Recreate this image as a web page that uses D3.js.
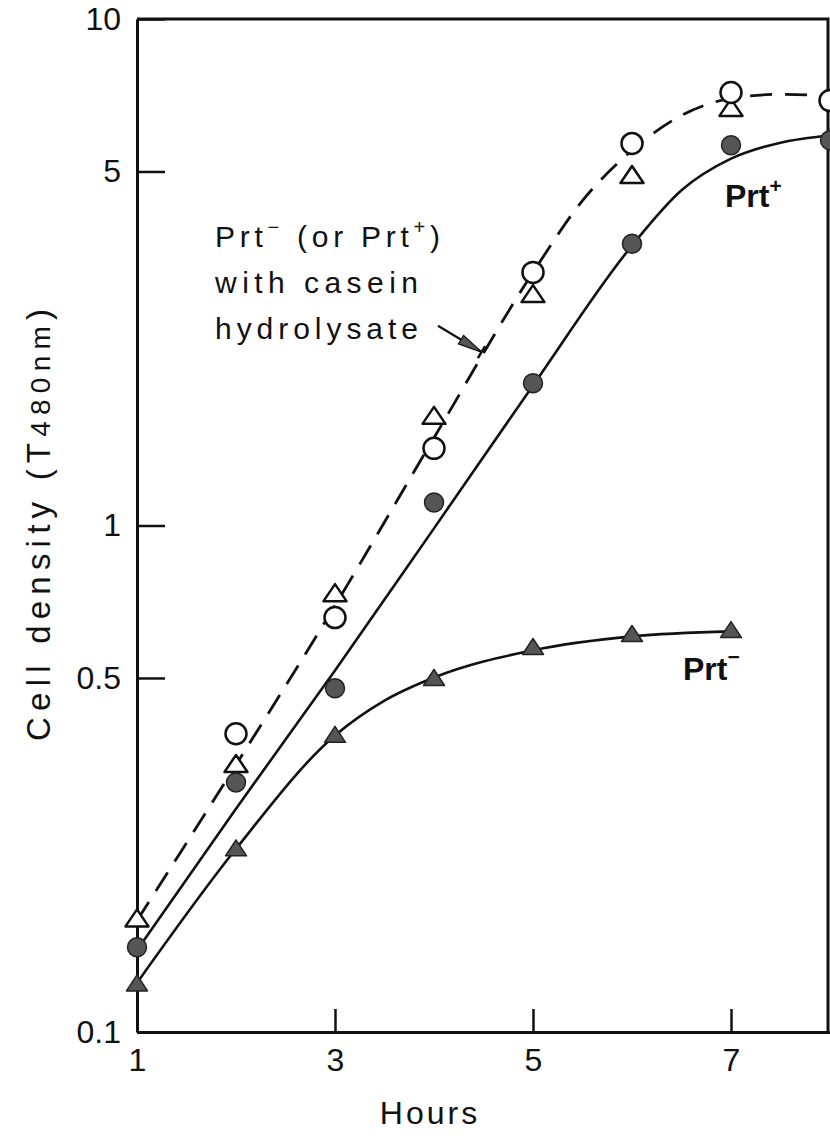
<!DOCTYPE html>
<html>
<head>
<meta charset="utf-8">
<script src="https://cdn.jsdelivr.net/npm/d3@7"></script>
<style>
    body { margin: 0; background: #fff; }
    svg { display: block; font-family: "Liberation Sans", Arial, sans-serif; }
</style>
</head>
<body>
<div class="growth-chart"></div>
<script>
const FRAME_WIDTH = 830;
const FRAME_HEIGHT = 1136;
const MARGINS = {left: 137, right: 2, top: 19, bottom: 104};

// measured points (cell density vs hours)
const CASEIN_CIRCLE_HOURS = [2, 3, 4, 5, 6, 7, 8];
const CASEIN_CIRCLE = [0.388, 0.658, 1.42, 3.16, 5.68, 7.16, 6.90];
const CASEIN_TRIANGLE_HOURS = [1, 2, 3, 4, 5, 6, 7];
const CASEIN_TRIANGLE = [0.168, 0.339, 0.737, 1.65, 2.87, 4.93, 6.69];
const PRT_PLUS_HOURS = [1, 2, 3, 4, 5, 6, 7, 8];
const PRT_PLUS = [0.147, 0.311, 0.477, 1.11, 1.91, 3.60, 5.63, 5.76];
const PRT_MINUS_HOURS = [1, 2, 3, 4, 5, 6, 7];
const PRT_MINUS = [0.125, 0.231, 0.387, 0.501, 0.577, 0.612, 0.623];

// hand drawn curves through the points
const CASEIN_FIT_HOURS = [1, 2, 3, 4, 5, 5.5, 6, 6.5, 7, 7.5, 8];
const CASEIN_FIT = [0.166, 0.337, 0.695, 1.49, 3.16, 4.38, 5.50, 6.45, 6.97, 7.10, 7.06];
const PRT_PLUS_FIT_HOURS = [1, 2, 3, 4, 5, 6, 6.5, 7, 7.5, 8];
const PRT_PLUS_FIT = [0.145, 0.276, 0.517, 0.987, 1.89, 3.57, 4.59, 5.30, 5.70, 5.89];
const PRT_MINUS_FIT_HOURS = [1, 2, 3, 3.5, 4, 5, 6, 7];
const PRT_MINUS_FIT = [0.125, 0.230, 0.385, 0.451, 0.501, 0.567, 0.604, 0.618];

const X_TICKS = [1, 3, 5, 7];
const X_TICK_LABELS = ["1", "3", "5", "7"];
const Y_TICKS = [0.1, 0.5, 1, 5, 10];
const Y_TICK_LABELS = ["0.1", "0.5", "1", "5", "10"];

const zip = (xs, ys) => xs.map((x, i) => ({h: x, v: ys[i]}));

const FRAME = d3.select(".growth-chart")
    .append("svg")
    .attr("width", FRAME_WIDTH)
    .attr("height", FRAME_HEIGHT);

FRAME.append("rect").attr("width", FRAME_WIDTH).attr("height", FRAME_HEIGHT).attr("fill", "#fff");

const xScale = d3.scaleLinear().domain([1, 8]).range([MARGINS.left, FRAME_WIDTH]);
const yScale = d3.scaleLog().domain([0.1, 10]).range([FRAME_HEIGHT - MARGINS.bottom, MARGINS.top]);

// frame top + right
FRAME.append("path")
    .attr("d", "M" + MARGINS.left + "," + MARGINS.top + "H" + (FRAME_WIDTH - MARGINS.right) +
        "V" + (FRAME_HEIGHT - MARGINS.bottom))
    .attr("fill", "none").attr("stroke", "#111").attr("stroke-width", 3);

// y axis
const yAxis = FRAME.append("g")
    .attr("transform", "translate(" + MARGINS.left + ",0)")
    .call(d3.axisLeft(yScale).tickValues(Y_TICKS)
        .tickFormat((d, i) => Y_TICK_LABELS[i])
        .tickSizeInner(-28).tickSizeOuter(0).tickPadding(16));

// x axis
const xAxis = FRAME.append("g")
    .attr("transform", "translate(0," + (FRAME_HEIGHT - MARGINS.bottom) + ")")
    .call(d3.axisBottom(xScale).tickValues(X_TICKS)
        .tickFormat((d, i) => X_TICK_LABELS[i])
        .tickSizeInner(-23).tickSizeOuter(0).tickPadding(16));

[yAxis, xAxis].forEach((ax) => {
    ax.select(".domain").attr("stroke", "#111").attr("stroke-width", 3);
    ax.selectAll(".tick line").attr("stroke", "#111").attr("stroke-width", 2.5);
    ax.selectAll(".tick text").attr("fill", "#111")
        .attr("font-family", "'Liberation Sans', Arial, sans-serif").attr("font-size", 32);
});

// axis titles
FRAME.append("text")
    .attr("x", 430).attr("y", 1124)
    .attr("text-anchor", "middle").attr("font-size", 32).attr("letter-spacing", 3)
    .attr("fill", "#111").text("Hours");

const yTitle = FRAME.append("text")
    .attr("transform", "translate(50,525) rotate(-90)")
    .attr("text-anchor", "middle").attr("font-size", 33).attr("fill", "#111")
    .attr("textLength", 432).attr("lengthAdjust", "spacing");
yTitle.append("tspan").text("Cell  density  (T");
yTitle.append("tspan").attr("font-size", 28).text("480nm");
yTitle.append("tspan").text(")");

// curves
const line = d3.line()
    .x((d) => xScale(d.h))
    .y((d) => yScale(d.v))
    .curve(d3.curveMonotoneX);

FRAME.append("path").datum(zip(CASEIN_FIT_HOURS, CASEIN_FIT))
    .attr("d", line).attr("fill", "none").attr("stroke", "#111")
    .attr("stroke-width", 2.8).attr("stroke-dasharray", "22,13");

FRAME.append("path").datum(zip(PRT_PLUS_FIT_HOURS, PRT_PLUS_FIT))
    .attr("d", line).attr("fill", "none").attr("stroke", "#111").attr("stroke-width", 2.6);

FRAME.append("path").datum(zip(PRT_MINUS_FIT_HOURS, PRT_MINUS_FIT))
    .attr("d", line).attr("fill", "none").attr("stroke", "#111").attr("stroke-width", 2.6);

// markers
function triPath(w, h) {
    return "M0," + (-h / 2) + "L" + (w / 2) + "," + (h / 2) + "L" + (-w / 2) + "," + (h / 2) + "Z";
}

FRAME.selectAll(".open-tri")
    .data(zip(CASEIN_TRIANGLE_HOURS, CASEIN_TRIANGLE))
    .enter().append("path")
    .attr("class", "open-tri")
    .attr("transform", (d) => "translate(" + xScale(d.h) + "," + yScale(d.v) + ")")
    .attr("d", triPath(23, 17))
    .attr("fill", "#fff").attr("stroke", "#111").attr("stroke-width", 2.5)
    .attr("stroke-linejoin", "round");

FRAME.selectAll(".open-circle")
    .data(zip(CASEIN_CIRCLE_HOURS, CASEIN_CIRCLE))
    .enter().append("circle")
    .attr("class", "open-circle")
    .attr("cx", (d) => xScale(d.h))
    .attr("cy", (d) => yScale(d.v))
    .attr("r", 10.5)
    .attr("fill", "#fff").attr("stroke", "#111").attr("stroke-width", 2.5);

FRAME.selectAll(".filled-circle")
    .data(zip(PRT_PLUS_HOURS, PRT_PLUS))
    .enter().append("circle")
    .attr("class", "filled-circle")
    .attr("cx", (d) => xScale(d.h))
    .attr("cy", (d) => yScale(d.v))
    .attr("r", 9.5)
    .attr("fill", "#555").attr("stroke", "#222").attr("stroke-width", 1.5);

FRAME.selectAll(".filled-tri")
    .data(zip(PRT_MINUS_HOURS, PRT_MINUS))
    .enter().append("path")
    .attr("class", "filled-tri")
    .attr("transform", (d) => "translate(" + xScale(d.h) + "," + yScale(d.v) + ")")
    .attr("d", triPath(21, 16))
    .attr("fill", "#555").attr("stroke", "#222").attr("stroke-width", 1.5)
    .attr("stroke-linejoin", "round");

// annotation
const note = FRAME.append("g").attr("fill", "#111").attr("font-size", 30);

const l1 = note.append("text").attr("x", 215).attr("y", 247)
    .attr("textLength", 225).attr("lengthAdjust", "spacing");
l1.append("tspan").text("Prt");
l1.append("tspan").attr("dy", -13).attr("font-size", 20).text("\u2212");
l1.append("tspan").attr("dy", 13).text("  (or Prt");
l1.append("tspan").attr("dy", -13).attr("font-size", 20).text("+");
l1.append("tspan").attr("dy", 13).text(")");

note.append("text").attr("x", 215).attr("y", 293)
    .attr("textLength", 203).attr("lengthAdjust", "spacing").text("with  casein");
note.append("text").attr("x", 215).attr("y", 339)
    .attr("textLength", 203).attr("lengthAdjust", "spacing").text("hydrolysate");

// arrow to dashed curve
const ARROW_FROM = {h: 4.04, v: 2.48};
const ARROW_TO = {h: 4.48, v: 2.2};
const ax0 = xScale(ARROW_FROM.h), ay0 = yScale(ARROW_FROM.v);
const ax1 = xScale(ARROW_TO.h), ay1 = yScale(ARROW_TO.v);
const ang = Math.atan2(ay1 - ay0, ax1 - ax0);
FRAME.append("line")
    .attr("x1", ax0).attr("y1", ay0).attr("x2", ax1).attr("y2", ay1)
    .attr("stroke", "#111").attr("stroke-width", 2.2);
FRAME.append("path")
    .attr("transform", "translate(" + ax1 + "," + ay1 + ") rotate(" + (ang * 180 / Math.PI) + ")")
    .attr("d", "M0,0 L-24,-5 L-24,5 Z")
    .attr("fill", "#555").attr("stroke", "#111").attr("stroke-width", 1.2);
FRAME.append("line")
    .attr("transform", "translate(" + ax1 + "," + ay1 + ") rotate(" + (ang * 180 / Math.PI) + ")")
    .attr("x1", 0).attr("y1", -7).attr("x2", 0).attr("y2", 7)
    .attr("stroke", "#111").attr("stroke-width", 2.5);

// series labels
const plusLabel = FRAME.append("text").attr("x", 725).attr("y", 207)
    .attr("font-size", 32).attr("font-weight", "bold").attr("fill", "#111");
plusLabel.append("tspan").text("Prt");
plusLabel.append("tspan").attr("dy", -14).attr("font-size", 21).text("+");

const minusLabel = FRAME.append("text").attr("x", 683).attr("y", 680)
    .attr("font-size", 32).attr("font-weight", "bold").attr("fill", "#111");
minusLabel.append("tspan").text("Prt");
minusLabel.append("tspan").attr("dy", -16).attr("font-size", 21).text("\u2212");
</script>
</body>
</html>
